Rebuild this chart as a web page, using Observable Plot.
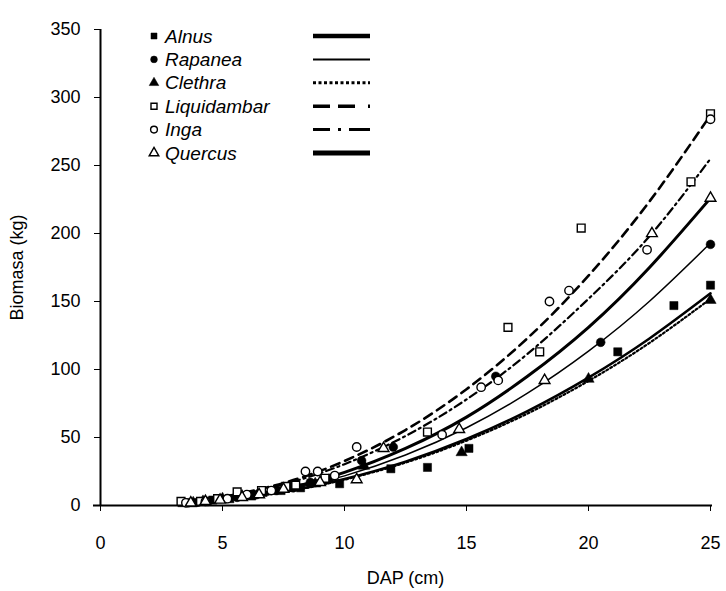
<!DOCTYPE html>
<html><head><meta charset="utf-8">
<script src="https://cdn.jsdelivr.net/npm/d3@7"></script>
<script src="https://cdn.jsdelivr.net/npm/@observablehq/plot@0.6"></script>
<style>
html,body{margin:0;padding:0;background:#fff;}
#wrap{position:relative;width:726px;height:591px;}
#legend{position:absolute;left:0;top:0;}
</style></head><body><div id="wrap"></div>
<script>
// ---- data ----
const species = ["Alnus","Rapanea","Clethra","Liquidambar","Inga","Quercus"];
const xTicks = [0,5,10,15,20,25];
const yTicks = [0,50,100,150,200,250,300,350];

// fitted curves (biomass at DAP grid)
const fitDAP       = [3.5, 5,   7.5,  10,   12.5, 15,   17.5,  20,    22.5,  25];
const fitAlnus     = [1.8, 4.0, 10.1, 19.5, 32.3, 48.9, 69.4,  94.0,  122.8, 156];
const fitRapanea   = [1.8, 4.2, 11.0, 21.8, 37.1, 57.2, 82.6,  113.5, 150.2, 193];
const fitClethra   = [1.8, 3.9, 9.9,  19.0, 31.5, 47.7, 67.6,  91.6,  119.6, 152];
const fitLiquid    = [2.7, 6.3, 16.5, 32.7, 55.5, 85.5, 123,   169,   223.6, 287];
const fitInga      = [2.7, 6.1, 15.6, 30.4, 51.1, 78,   111.5, 152,   198,   255];
const fitQuercus   = [1.9, 4.5, 12.1, 24.4, 42,   65,   95,    131,   175,   226];

// observed points
const alnusDAP   = [3.8, 4.2, 4.6, 5.3, 6.2, 7.4, 8.2, 9.8, 11.9, 13.4, 15.1, 21.2, 23.5, 25];
const alnusB     = [2,   3,   4,   5,   7,   11,  13,  16,  27,   28,   42,   113,  147,  162];
const rapaneaDAP = [3.6, 4.0, 4.4, 5.6, 6.4, 7.2, 7.9, 8.6, 9.4, 10.7, 12.0, 16.2, 20.5, 25];
const rapaneaB   = [2,   2.5, 3,   6,   8,   11,  13,  17,  20,  33,   43,   95,   120,  192];
const clethraDAP = [3.4, 3.8, 4.2, 5.0, 5.8, 6.6, 7.2, 7.8, 8.8, 10.8, 14.8, 20, 25];
const clethraB   = [1.5, 2,   3,   5,   7,   9,   11,  13,  16,  29,   39,   93, 151];
const liquidDAP  = [3.3, 4.1, 4.8, 5.6, 6.6, 7.6, 8.0, 9.2, 13.4, 16.7, 18.0, 19.7, 24.2, 25];
const liquidB    = [3,   3,   5,   10,  11,  14,  15,  20,  54,   131,  113,  204,  238,  288];
const ingaDAP    = [3.5, 4.3, 5.2, 6.0, 7.0, 8.4, 8.9, 9.6, 10.5, 14.0, 15.6, 16.3, 18.4, 19.2, 22.4, 25];
const ingaB      = [2,   3,   5,   8,   11,  25,  25,  22,  43,   52,   87,   92,   150,  158,  188,  284];
const quercusDAP = [3.7, 4.3, 4.9, 5.8, 6.5, 7.5, 9.0, 10.5, 11.6, 14.7, 18.2, 22.6, 25];
const quercusB   = [2,   3,   4,   6,   8,   12,  17,  19,   42,   56,   92,   200,  226];

// ---- build ----
const toRows = (xs, ys) => xs.map((x, i) => ({x, y: ys[i]}));
const fits = [fitAlnus, fitRapanea, fitClethra, fitLiquid, fitInga, fitQuercus];
const ptsX = [alnusDAP, rapaneaDAP, clethraDAP, liquidDAP, ingaDAP, quercusDAP];
const ptsY = [alnusB, rapaneaB, clethraB, liquidB, ingaB, quercusB];

const lineStyle = [
  {strokeWidth: 2.5, dash: null},
  {strokeWidth: 1.5, dash: null},
  {strokeWidth: 2.2, dash: "2,2.5"},
  {strokeWidth: 2.6, dash: "9,6"},
  {strokeWidth: 2.2, dash: "8,4,2,4"},
  {strokeWidth: 3,   dash: null}
];
const legendLine = [
  {strokeWidth: 4.5, dash: null},
  {strokeWidth: 2,   dash: null},
  {strokeWidth: 3,   dash: "3,2.5"},
  {strokeWidth: 3.5, dash: "17,8,17,13,2,30"},
  {strokeWidth: 3,   dash: "17,8,3,8,21,30"},
  {strokeWidth: 5,   dash: null}
];
const sym = [
  {symbol: "square",   filled: true,  r: 4.6},
  {symbol: "circle",   filled: true,  r: 4.4},
  {symbol: "triangle", filled: true,  r: 4.2},
  {symbol: "square",   filled: false, r: 4.4},
  {symbol: "circle",   filled: false, r: 4.2},
  {symbol: "triangle", filled: false, r: 4.0}
];

const font = "'Liberation Sans', Arial, sans-serif";
const marks = [];
species.forEach((s, i) => {
  const st = lineStyle[i];
  marks.push(Plot.line(toRows(fitDAP, fits[i]), {
    x: "x", y: "y", curve: "natural", stroke: "#000",
    strokeWidth: st.strokeWidth, strokeDasharray: st.dash || undefined
  }));
});
species.forEach((s, i) => {
  const sm = sym[i];
  marks.push(Plot.dot(toRows(ptsX[i], ptsY[i]), {
    x: "x", y: "y", symbol: sm.symbol, r: sm.r,
    fill: sm.filled ? "#000" : "#fff",
    stroke: "#000", strokeWidth: sm.filled ? 0.5 : 1.4
  }));
});

const chart = Plot.plot({
  width: 726, height: 591,
  marginLeft: 100, marginRight: 16, marginTop: 29, marginBottom: 86,
  style: {fontFamily: font, fontSize: "18px", color: "#000", background: "#fff", overflow: "visible"},
  x: {domain: [0, 25]},
  y: {domain: [0, 350]},
  marks: [
    Plot.axisX({ticks: xTicks, tickSize: 6, tickPadding: 25, fontSize: 18,
      label: "DAP (cm)", labelAnchor: "center", labelArrow: "none", labelOffset: 78}),
    Plot.axisY({ticks: yTicks, tickSize: 6, tickPadding: 14, fontSize: 18,
      label: "Biomasa (kg)", labelAnchor: "center", labelArrow: "none", labelOffset: 90}),
    Plot.ruleY([0], {stroke: "#000", strokeWidth: 2, insetLeft: -7, insetRight: -2}),
    Plot.ruleX([0], {stroke: "#000", strokeWidth: 2}),
    ...marks
  ]
});
document.getElementById("wrap").appendChild(chart);

// ---- legend overlay ----
const leg = d3.select("#wrap").append("svg").attr("id", "legend")
  .attr("width", 726).attr("height", 591)
  .style("font-family", font).style("font-size", "19px");
const rowY = i => 36 + i * 23.4;
species.forEach((s, i) => {
  const g = leg.append("g").attr("transform", `translate(0,${rowY(i)})`);
  const sm = sym[i];
  const path = d3.symbol(sm.symbol === "square" ? d3.symbolSquare : sm.symbol === "circle" ? d3.symbolCircle : d3.symbolTriangle,
    sm.symbol === "triangle" ? 40 : 36)();
  g.append("path").attr("d", path).attr("transform", "translate(154,0)")
    .attr("fill", sm.filled ? "#000" : "#fff").attr("stroke", "#000").attr("stroke-width", sm.filled ? 0.5 : 1.4);
  g.append("text").attr("x", 165).attr("y", 0).attr("dy", "0.35em")
    .style("font-style", "italic").text(s);
  const ls = legendLine[i];
  g.append("line").attr("x1", 313).attr("x2", 370).attr("y1", 0).attr("y2", 0)
    .attr("stroke", "#000").attr("stroke-width", ls.strokeWidth)
    .attr("stroke-dasharray", ls.dash);
});
</script></body></html>
